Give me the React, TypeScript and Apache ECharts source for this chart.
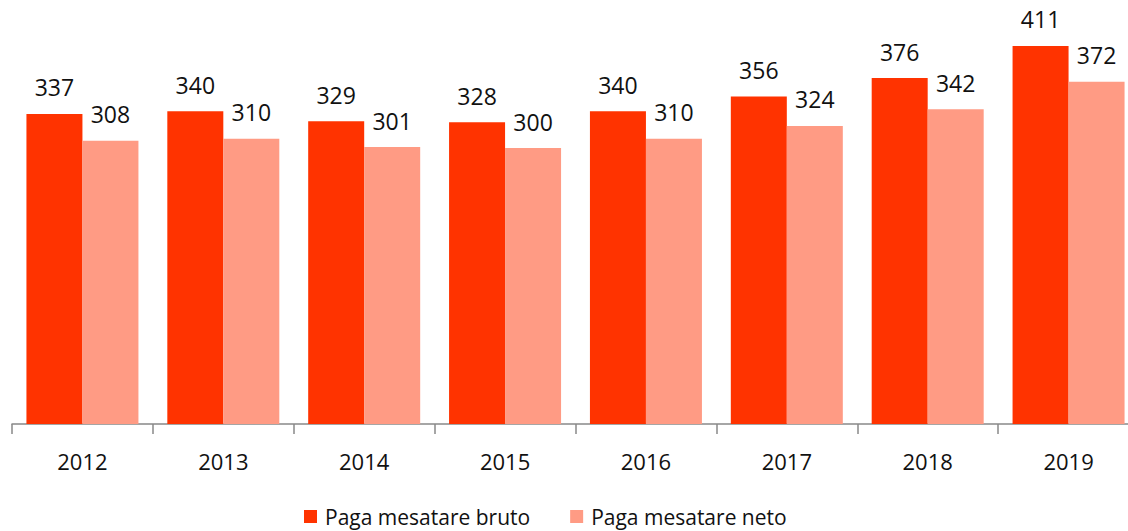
import React, { useEffect, useRef } from "react";
import * as echarts from "echarts";

const categories = ["2012", "2013", "2014", "2015", "2016", "2017", "2018", "2019"];
const bruto = [337, 340, 329, 328, 340, 356, 376, 411];
const neto = [308, 310, 301, 300, 310, 324, 342, 372];
const seriesNames = ["Paga mesatare bruto", "Paga mesatare neto"];

const FONT = "'Open Sans', sans-serif";

export default function App() {
  const ref = useRef<HTMLDivElement>(null);
  useEffect(() => {
    document.body.style.margin = "0";
    document.body.style.overflow = "hidden";
    const chart = echarts.init(ref.current!, undefined, { renderer: "svg" });
    const label = {
      show: true,
      position: "top" as const,
      distance: 15,
      fontFamily: FONT,
      fontSize: 23,
      color: "#111",
    };
    chart.setOption({
      animation: false,
      backgroundColor: "#fff",
      grid: { left: 12, right: 0, top: 10, bottom: 107 },
      legend: {
        bottom: -1,
        left: 299,
        itemWidth: 13,
        itemHeight: 13,
        itemGap: 40,
        icon: "rect",
        textStyle: { fontFamily: FONT, fontSize: 21, color: "#111", padding: [0, 0, 0, 3] },
        data: seriesNames,
      },
      xAxis: {
        type: "category",
        data: categories,
        axisLine: { lineStyle: { color: "#888", width: 1.5 } },
        axisTick: { show: true, length: 10, lineStyle: { color: "#888", width: 1.5 } },
        axisLabel: { fontFamily: FONT, fontSize: 22, color: "#111", margin: 26 },
      },
      yAxis: {
        type: "value",
        min: 0,
        max: 450,
        show: false,
        splitLine: { show: false },
      },
      series: [
        {
          name: seriesNames[0],
          type: "bar",
          data: bruto,
          barWidth: 56,
          barGap: "0%",
          itemStyle: { color: "#FF3300" },
          label,
        },
        {
          name: seriesNames[1],
          type: "bar",
          data: neto,
          barWidth: 56,
          itemStyle: { color: "#FF9B84" },
          label,
        },
      ],
    });
    return () => chart.dispose();
  }, []);
  return (
    <div
      ref={ref}
      style={{ position: "fixed", left: 0, top: 0, width: 1139, height: 531 }}
    />
  );
}
